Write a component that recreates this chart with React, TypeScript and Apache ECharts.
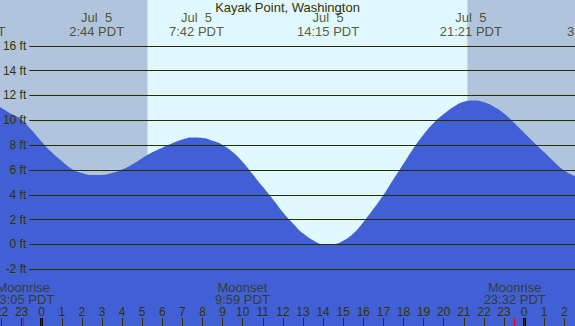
import React, { useEffect, useRef } from 'react';
import * as echarts from 'echarts';

const TITLE = 'Kayak Point, Washington';

// tide height (ft) read every half hour (hours from midnight Jul 5, PDT)
const hours = [
  -3, -2.5, -2, -1.5, -1, -0.5, 0, 0.5, 1, 1.5, 2, 2.5, 3, 3.5, 4, 4.5, 5, 5.5,
  6, 6.5, 7, 7.5, 8, 8.5, 9, 9.5, 10, 10.5, 11, 11.5, 12, 12.5, 13, 13.5, 14,
  14.5, 15, 15.5, 16, 16.5, 17, 17.5, 18, 18.5, 19, 19.5, 20, 20.5, 21, 21.5,
  22, 22.5, 23, 23.5, 24, 24.5, 25, 25.5, 26, 26.5, 27, 27.5,
];
const heights = [
  11.56, 11.39, 11.0, 10.5, 10.05, 9.2, 8.28, 7.42, 6.72, 6.08, 5.75, 5.59,
  5.6, 5.75, 6.03, 6.45, 6.95, 7.42, 7.8, 8.15, 8.45, 8.61, 8.58, 8.35, 8.02,
  7.45, 6.65, 5.65, 4.65, 3.65, 2.6, 1.7, 0.9, 0.35, 0.04, 0.04, 0.3, 0.88,
  1.8, 2.85, 3.98, 5.25, 6.5, 7.75, 8.85, 9.78, 10.5, 11.1, 11.5, 11.6, 11.45,
  11.1, 10.55, 9.8, 9.0, 8.2, 7.42, 6.65, 5.95, 5.52, 5.2, 5.05,
];

const yTicks = [-2, 0, 2, 4, 6, 8, 10, 12, 14, 16];
const hourTicks = [
  -2, -1, 0, 1, 2, 3, 4, 5, 6, 7, 8, 9, 10, 11, 12, 13, 14, 15, 16, 17, 18,
  19, 20, 21, 22, 23, 24, 25, 26,
];
const midnightHours = [0, 24];

const extremeHours = [-3.35, 2.733, 7.7, 14.25, 21.35, 27.5];
const extremeLabels = [
  'Jul  4\n20:39 PDT',
  'Jul  5\n2:44 PDT',
  'Jul  5\n7:42 PDT',
  'Jul  5\n14:15 PDT',
  'Jul  5\n21:21 PDT',
  'Jul  6\n3:30 PDT',
];

const moonHours = [-0.917, 9.983, 23.533];
const moonLabels = ['Moonrise\n23:05 PDT', 'Moonset\n9:59 PDT', 'Moonrise\n23:32 PDT'];

const SUNRISE = 5.26;
const SUNSET = 21.18;

// layout constants
const X_MIN = -2.0746;
const X_MAX = 26.532;
const Y_MIN = -6.564;
const Y_MAX = 19.69;
const GRID_START_H = -0.617;
const TICK_LEN = 0.644;
const TOP_LABEL_Y = 17.72;
const MOON_LABEL_Y = -3.95;

const FONT = '"Liberation Sans", Arial, Helvetica, sans-serif';
const TEXT = '#333300';
const GRIDLINE = '#2b2b00';
const NIGHT = '#B0C4DE';
const DAY = '#E0F8FF';
const WATER = '#4160D6';

function buildOption() {
  const tideData = hours.map((h, i) => [h, heights[i]]);
  return {
    animation: false,
    backgroundColor: DAY,
    title: {
      text: TITLE,
      left: 'center',
      top: 0,
      padding: [1, 0, 0, 0],
      textStyle: { fontFamily: FONT, fontSize: 13, fontWeight: 'normal', color: TEXT },
    },
    grid: {
      left: 0,
      right: 0,
      top: 0,
      bottom: 0,
      containLabel: false,
      outerBoundsMode: 'none',
    },
    xAxis: {
      type: 'value',
      min: X_MIN,
      max: X_MAX,
      z: 10,
      axisLine: { show: false, onZero: false },
      splitLine: { show: false },
      axisTick: {
        show: true,
        inside: true,
        length: 8,
        customValues: hourTicks,
        lineStyle: { color: TEXT, width: 1 },
      },
      axisLabel: {
        show: true,
        inside: true,
        margin: 8,
        customValues: hourTicks,
        hideOverlap: false,
        formatter: (v: number) => String(((Math.round(v) % 24) + 24) % 24),
        color: TEXT,
        fontFamily: FONT,
        fontSize: 12,
      },
    },
    yAxis: {
      type: 'value',
      min: Y_MIN,
      max: Y_MAX,
      show: false,
      splitLine: { show: false },
    },
    series: [
      {
        type: 'line',
        z: 1,
        silent: true,
        data: [],
        markArea: {
          silent: true,
          itemStyle: { color: NIGHT },
          data: [
            [{ xAxis: X_MIN }, { xAxis: SUNRISE }],
            [{ xAxis: SUNSET }, { xAxis: X_MAX }],
          ],
        },
      },
      {
        type: 'line',
        z: 2,
        silent: true,
        data: tideData,
        smooth: true,
        symbol: 'none',
        lineStyle: { width: 0 },
        areaStyle: { color: WATER, opacity: 1, origin: 'start' },
      },
      {
        type: 'line',
        z: 3,
        silent: true,
        data: [],
        markLine: {
          silent: true,
          symbol: ['none', 'none'],
          animation: false,
          lineStyle: { color: GRIDLINE, width: 1.2, type: 'solid' },
          label: {
            show: true,
            position: 'start',
            distance: 3,
            formatter: '{b}',
            color: TEXT,
            fontFamily: FONT,
            fontSize: 12,
          },
          data: yTicks.map((v) => [
            { name: `${v} ft`, coord: [GRID_START_H, v] },
            { coord: [X_MAX, v] },
          ]),
        },
      },
      {
        type: 'line',
        z: 30,
        zlevel: 0,
        silent: true,
        data: [],
        markLine: {
          silent: true,
          symbol: ['none', 'none'],
          label: { show: false },
          data: [
            ...midnightHours.map((h) => [
              { coord: [h, Y_MIN], lineStyle: { color: '#000000', width: 3, type: 'solid' } },
              { coord: [h, Y_MIN + TICK_LEN] },
            ]),
            ...moonHours.map((h) => [
              { coord: [h, Y_MIN], lineStyle: { color: '#FF0000', width: 1.2, type: 'solid' } },
              { coord: [h, Y_MIN + TICK_LEN] },
            ]),
          ],
        },
      },
      {
        type: 'scatter',
        z: 12,
        silent: true,
        clip: false,
        symbolSize: 1,
        itemStyle: { color: 'rgba(0,0,0,0)' },
        label: {
          show: true,
          position: 'inside',
          formatter: '{b}',
          color: TEXT,
          fontFamily: FONT,
          fontSize: 13,
          lineHeight: 14,
          align: 'center',
          verticalAlign: 'middle',
        },
        data: extremeHours.map((h, i) => ({ name: extremeLabels[i], value: [h, TOP_LABEL_Y] })),
      },
      {
        type: 'scatter',
        z: 12,
        silent: true,
        clip: false,
        symbolSize: 1,
        itemStyle: { color: 'rgba(0,0,0,0)' },
        label: {
          show: true,
          position: 'inside',
          formatter: '{b}',
          color: TEXT,
          fontFamily: FONT,
          fontSize: 13,
          lineHeight: 12,
          align: 'center',
          verticalAlign: 'middle',
        },
        data: moonHours.map((h, i) => ({ name: moonLabels[i], value: [h, MOON_LABEL_Y] })),
      },
    ],
  };
}

export default function App() {
  const ref = useRef<HTMLDivElement>(null);
  useEffect(() => {
    if (!ref.current) return;
    const chart = echarts.init(ref.current, null, { renderer: 'svg' });
    chart.setOption(buildOption() as any);
    return () => chart.dispose();
  }, []);
  return (
    <div
      ref={ref}
      style={{ position: 'fixed', left: 0, top: 0, width: 575, height: 326 }}
    />
  );
}
